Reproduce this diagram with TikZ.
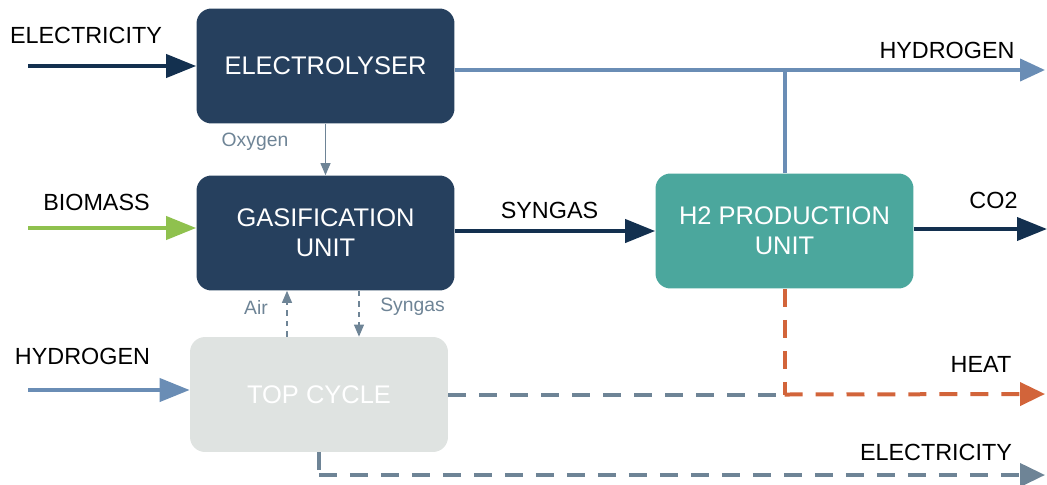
\documentclass[tikz,border=0pt]{standalone}
\usepackage{fontspec}
\setmainfont{Liberation Sans}
\usetikzlibrary{arrows.meta}
\definecolor{navy}{HTML}{26405E}
\definecolor{darknavy}{HTML}{13304F}
\definecolor{teal}{HTML}{4BA79D}
\definecolor{lightgrey}{HTML}{DFE3E1}
\definecolor{steel}{HTML}{6E8496}
\definecolor{skyblue}{HTML}{6A8DB5}
\definecolor{leaf}{HTML}{8FC14E}
\definecolor{rust}{HTML}{D2643A}
\begin{document}
\begin{tikzpicture}[
    x=0.02cm, y=-0.02cm,
    unit/.style={rectangle, rounded corners=0.3cm, minimum width=5.16cm, minimum height=2.3cm, align=center, text=white, font=\fontsize{14.5}{17}\selectfont},
    lbl/.style={font=\fontsize{13.3}{15}\selectfont},
    small/.style={font=\fontsize{11}{13}\selectfont, text=steel},
    flow/.style={line width=0.08cm, -{Triangle[length=0.6cm, width=0.46cm]}},
    thinflow/.style={line width=0.6pt, draw=steel, -{Triangle[length=0.24cm, width=0.2cm]}},
    dashflow/.style={line width=0.08cm, dash pattern=on 0.36cm off 0.26cm}
]
\useasboundingbox (0,0) rectangle (1047,484);
\node [unit, fill=navy] (elec) at (325.5,66) {ELECTROLYSER};
\node [unit, fill=navy] (gas) at (325.5,233) {GASIFICATION\\UNIT};
\node [unit, fill=teal] (h2) at (784.5,231) {H2 PRODUCTION\\UNIT};
\node [unit, fill=lightgrey] (top) at (319,394.5) {TOP CYCLE};

\coordinate (ein) at (28,66);
\coordinate (bin) at (28,228);
\coordinate (hin) at (28,390);
\coordinate (hout) at (1045,70);
\coordinate (cout) at (1047,229);
\coordinate (heat) at (1045,394);
\coordinate (eout) at (1045,475);

\draw [flow, draw=darknavy, darknavy] (ein) -- (elec.west |- ein);
\draw [flow, draw=leaf, leaf] (bin) -- (gas.west |- bin);
\draw [flow, draw=skyblue, skyblue] (hin) -- (top.west |- hin);
\draw [line width=0.08cm, draw=skyblue, -{Triangle[length=0.5cm, width=0.44cm]}, skyblue] (elec.east |- hout) -- (hout);
\draw [line width=0.08cm, draw=skyblue] (h2.north) -- (h2.north |- hout);
\draw [flow, draw=darknavy, darknavy] (gas.east |- h2) -- (h2.west);
\draw [flow, draw=darknavy, darknavy] (h2.east |- cout) -- (cout);
\draw [thinflow] (elec.south) -- (gas.south |- gas.north);
\draw [thinflow, dashed] ([xshift=-0.64cm]top.north) -- ([xshift=-0.64cm]top.north |- gas.south);
\draw [thinflow, dashed] ([xshift=0.8cm]top.north |- gas.south) -- ([xshift=0.8cm]top.north);
\draw [dashflow, draw=steel] (top.east) -- (h2.south |- top.east);
\draw [dashflow, draw=rust] (h2.south) -- (h2.south |- top.east);
\draw [dashflow, draw=rust, -{Triangle[length=0.5cm, width=0.46cm]}, rust] (h2.south |- top.east) -- (heat);
\draw [line width=0.08cm, draw=steel] (top.south) -- ++(0,18);
\draw [dashflow, draw=steel, -{Triangle[length=0.5cm, width=0.46cm]}, steel] (top.south |- eout) -- (eout);

\node [lbl] (lelec) at (86,35) {ELECTRICITY};
\node [lbl] (lbio) at (96.5,202) {BIOMASS};
\node [lbl] (lhin) at (82.5,356) {HYDROGEN};
\node [lbl] (lhout) at (947,50) {HYDROGEN};
\node [lbl] (lsyn) at (549.5,210) {SYNGAS};
\node [lbl] (lco2) at (993.5,200) {CO2};
\node [lbl] (lheat) at (981,364) {HEAT};
\node [lbl] (leout) at (936,452) {ELECTRICITY};
\node [small] (lox) at (255,142) {Oxygen};
\node [small] (lair) at (256,307) {Air};
\node [small] (lsg) at (412.5,307) {Syngas};
\end{tikzpicture}
\end{document}
